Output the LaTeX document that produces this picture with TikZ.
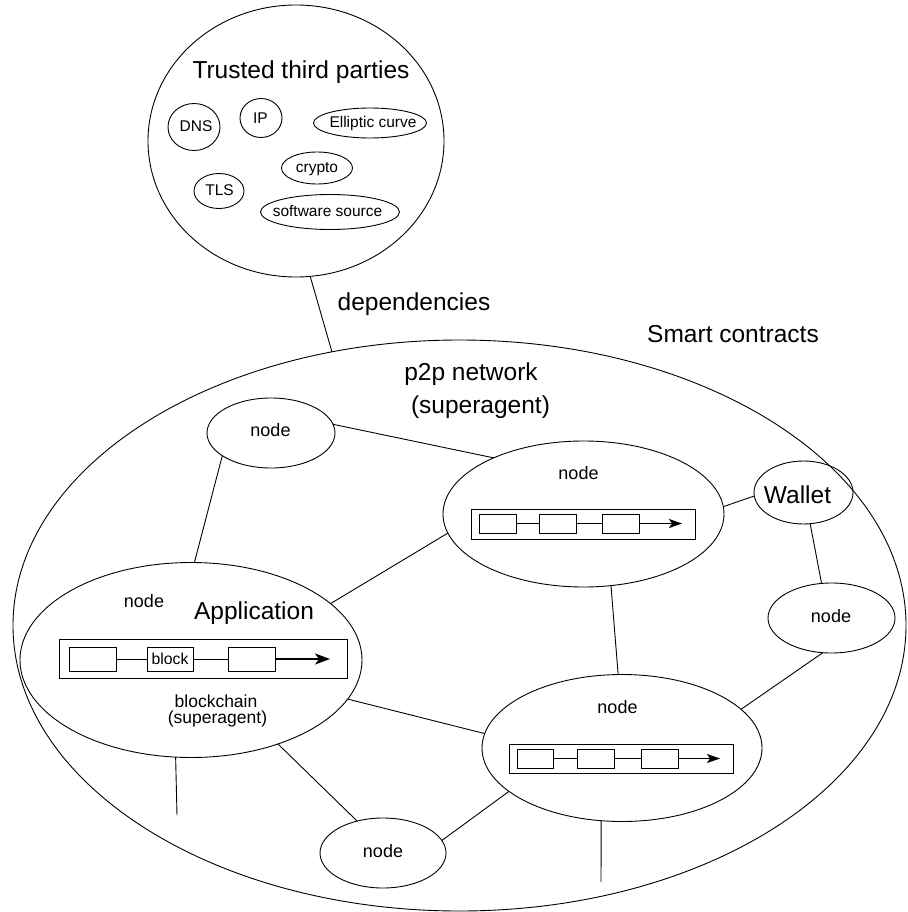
\documentclass[tikz,border=0pt]{standalone}
\usepackage{fontspec}
\setmainfont{Liberation Sans}
\usetikzlibrary{shapes.geometric,arrows.meta}
\begin{document}
\begin{tikzpicture}[x=1pt,y=-1pt,
  every node/.style={inner sep=0pt, outer sep=0pt},
  oval/.style={draw, ellipse, line width=0.9pt},
  bigtxt/.style={font=\fontsize{24.5}{29}\selectfont, anchor=base},
  midtxt/.style={font=\fontsize{18}{21}\selectfont, anchor=base},
  smalltxt/.style={font=\fontsize{15.5}{18}\selectfont, anchor=base},
  chainbox/.style={draw, rectangle, line width=0.9pt},
  blk/.style={draw, rectangle, line width=0.9pt},
  link/.style={line width=0.9pt},
  chainarrow/.style={line width=1pt, -{Stealth[length=13pt,width=9pt,inset=3pt]}},
]
\useasboundingbox (0,0) rectangle (907,912);

% ---- trusted third parties ----
\node[oval, minimum width=296pt, minimum height=272pt] (ttp) at (296,141) {};
\node[bigtxt] (ttpT) at (301,79) {Trusted third parties};
\node[oval, minimum width=52pt, minimum height=47pt] (dns) at (194,127) {};
\node[smalltxt] (dnsT) at (196,132) {DNS};
\node[oval, minimum width=42pt, minimum height=39pt] (ip) at (261,118) {};
\node[smalltxt] (ipT) at (260.5,124) {IP};
\node[oval, minimum width=113pt, minimum height=30pt] (ec) at (370,123) {};
\node[smalltxt] (ecT) at (373,128) {Elliptic curve};
\node[oval, minimum width=71pt, minimum height=32pt] (cr) at (317,168) {};
\node[smalltxt] (crT) at (317,173) {crypto};
\node[oval, minimum width=50pt, minimum height=35pt] (tls) at (219,191) {};
\node[smalltxt] (tlsT) at (219.5,196) {TLS};
\node[oval, minimum width=139pt, minimum height=35pt] (sw) at (330,212) {};
\node[smalltxt] (swT) at (327.5,216) {software source};

% ---- smart contract space ----
\node[oval, minimum width=893pt, minimum height=571pt] (sc) at (459.5,625.5) {};
\node[bigtxt] (scT) at (733,342) {Smart contracts};
\node[bigtxt] (depT) at (414,310) {dependencies};
\draw[link] (ttp.276.6) -- (sc.115.2);
\node[bigtxt] (p2pT) at (471,380) {p2p network};
\node[bigtxt] (p2pS) at (480.5,413) {(superagent)};

% ---- peers ----
\node[oval, minimum width=128pt, minimum height=70pt] (tl) at (271,433) {};
\node[midtxt] (tlT) at (270.5,436) {node};

\node[oval, minimum width=281pt, minimum height=146pt] (na) at (583.5,514) {};
\node[midtxt] (naT) at (578.5,479) {node};
\node[chainbox, minimum width=224pt, minimum height=30pt] (naC) at (583,524) {};
\node[blk, minimum width=37pt, minimum height=19pt] (na1) at (497.5,523.5) {};
\node[blk, minimum width=37pt, minimum height=19pt] (na2) at (557.5,523.5) {};
\node[blk, minimum width=37pt, minimum height=19pt] (na3) at (620.5,523.5) {};
\coordinate (naE) at (682,523.5);
\draw[link] (na1) -- (na2);
\draw[link] (na2) -- (na3);
\draw[chainarrow] (na3) -- (naE);

\node[oval, minimum width=280pt, minimum height=147pt] (nb) at (622,748) {};
\node[midtxt] (nbT) at (617.5,713) {node};
\node[chainbox, minimum width=224pt, minimum height=29pt] (nbC) at (621,758.5) {};
\node[blk, minimum width=36pt, minimum height=19pt] (nb1) at (535.5,758.5) {};
\node[blk, minimum width=37pt, minimum height=19pt] (nb2) at (595.5,758.5) {};
\node[blk, minimum width=37pt, minimum height=19pt] (nb3) at (659.5,758.5) {};
\coordinate (nbE) at (720,758.5);
\draw[link] (nb1) -- (nb2);
\draw[link] (nb2) -- (nb3);
\draw[chainarrow] (nb3) -- (nbE);

\node[oval, minimum width=342pt, minimum height=195pt] (app) at (191,660) {};
\node[midtxt] (appN) at (144,607) {node};
\node[bigtxt] (appT) at (254,619) {Application};
\node[chainbox, minimum width=288pt, minimum height=39pt] (appC) at (203,658.5) {};
\node[blk, minimum width=47pt, minimum height=24pt] (ap1) at (92.5,659) {};
\node[blk, minimum width=46pt, minimum height=24pt] (ap2) at (170,659) {};
\node[font=\fontsize{15.8}{18}\selectfont, anchor=base] (ap2T) at (170,664) {block};
\node[blk, minimum width=47pt, minimum height=24pt] (ap3) at (251.5,659) {};
\coordinate (apE) at (330,659);
\draw[link] (ap1) -- (ap2);
\draw[link] (ap2) -- (ap3);
\draw[line width=1.4pt, -{Stealth[length=15pt,width=11pt,inset=4pt]}] (ap3) -- (apE);
\node[font=\fontsize{17.5}{18}\selectfont, anchor=base] (bcT) at (216,707) {blockchain};
\node[font=\fontsize{17.5}{18}\selectfont, anchor=base] (bcS) at (217.5,723) {(superagent)};

\node[oval, minimum width=99pt, minimum height=63pt] (wal) at (803.5,492.5) {};
\node[bigtxt] (walT) at (797.5,503) {Wallet};

\node[oval, minimum width=127pt, minimum height=70pt] (rn) at (831.5,618) {};
\node[midtxt] (rnT) at (831,622) {node};

\node[oval, minimum width=126pt, minimum height=70pt] (bn) at (383,853) {};
\node[midtxt] (bnT) at (383,857) {node};

% ---- links ----
\draw[link] (tl.205.3) -- (app.88.3);
\draw[link] (tl.8.9) -- (na.148.1);
\draw[link] (na.291.3) -- (nb.93.2);
\draw[link] (app.22.9) -- (na.188.8);
\draw[link] (app.346.6) -- (nb.174);
\draw[link] (app.316.9) -- (bn.129.1);
\coordinate (appDrop) at (177,815);
\draw[link] (app.261.8) -- (appDrop);
\draw[link] (bn.12.3) -- (nb.201.1);
\coordinate (nbDrop) at (601,882);
\draw[link] (nb.254.2) -- (nbDrop);
\draw[link] (na.3.4) -- (wal.184.1);
\draw[link] (wal.282.3) -- (rn.106.7);
\draw[link] (rn.256.3) -- (nb.18.6);
\end{tikzpicture}
\end{document}
